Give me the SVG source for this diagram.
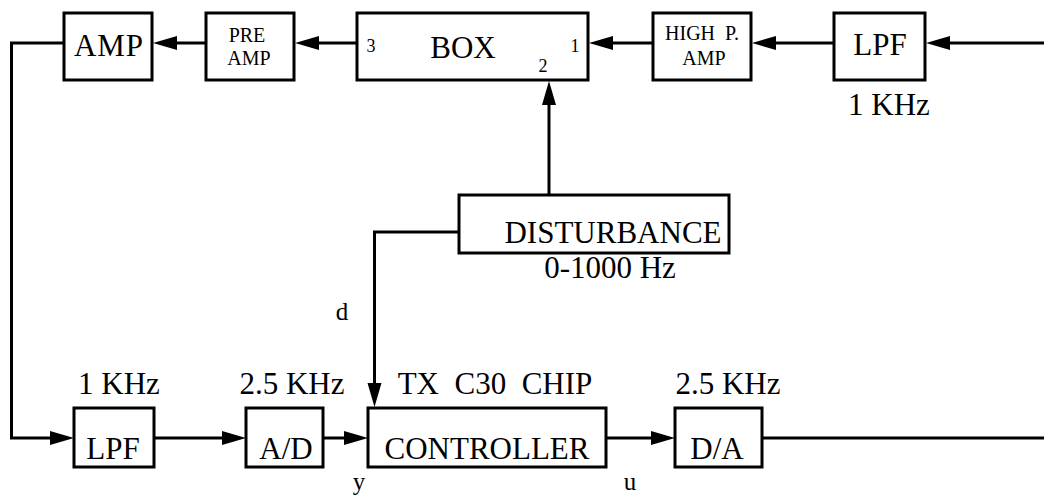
<svg xmlns="http://www.w3.org/2000/svg" width="1044" height="496" viewBox="0 0 1044 496">
<style>
.box{fill:#fff;stroke:#000;stroke-width:3}
.ln{fill:none;stroke:#000;stroke-width:3}
.t{font-family:"Liberation Serif","Times New Roman",serif;fill:#000;text-anchor:middle}
.big{font-size:31px}
.sm{font-size:20px}
.xs{font-size:18px}
.lab{font-size:25px}
</style>
<defs>
<marker id="ah" markerUnits="userSpaceOnUse" markerWidth="26" markerHeight="16" refX="14" refY="7" orient="auto">
<path d="M0,0 L24,7 L0,14 z" fill="#000"/>
</marker>
</defs>
<rect width="1044" height="496" fill="#fff"/>
<g id="connectors">
<path class="ln" d="M64,43 H11.5 V438 H64" marker-end="url(#ah)"/>
<path class="ln" d="M206,43 H163" marker-end="url(#ah)"/>
<path class="ln" d="M357,43 H305" marker-end="url(#ah)"/>
<path class="ln" d="M653,43 H599" marker-end="url(#ah)"/>
<path class="ln" d="M834,43 H762" marker-end="url(#ah)"/>
<path class="ln" d="M1044,43 H936" marker-end="url(#ah)"/>
<path class="ln" d="M549,195 V91" marker-end="url(#ah)"/>
<path class="ln" d="M459,232 H374.5 V397" marker-end="url(#ah)"/>
<path class="ln" d="M154,438 H236" marker-end="url(#ah)"/>
<path class="ln" d="M323,438 H358" marker-end="url(#ah)"/>
<path class="ln" d="M606,438 H665" marker-end="url(#ah)"/>
<path class="ln" d="M762,438 H1044"/>
</g>
<g id="amp"><rect class="box" x="64" y="13" width="88" height="67"/><text class="t big" x="109" y="56" letter-spacing="1">AMP</text></g>
<g id="preamp"><rect class="box" x="206" y="13" width="88" height="67"/><text class="t sm" x="247" y="42">PRE</text><text class="t sm" x="249" y="65">AMP</text></g>
<g id="box"><rect class="box" x="357" y="13" width="231" height="67"/><text class="t big" x="463" y="58">BOX</text><text class="t xs" x="371" y="52">3</text><text class="t xs" x="575" y="52">1</text><text class="t xs" x="543" y="72">2</text></g>
<g id="highpamp"><rect class="box" x="653" y="13" width="98" height="67"/><text class="t sm" x="702" y="40" xml:space="preserve">HIGH  P.</text><text class="t sm" x="704" y="65">AMP</text></g>
<g id="lpf-top"><rect class="box" x="834" y="13" width="91" height="67"/><text class="t big" x="880" y="55">LPF</text><text class="t big" x="889" y="115">1 KHz</text></g>
<g id="disturbance"><rect class="box" x="459" y="195" width="270" height="58"/><text class="t big" x="613" y="243">DISTURBANCE</text><text class="t big" x="610" y="278">0-1000 Hz</text></g>
<text class="t lab" x="342" y="320">d</text>
<g id="lpf-bottom"><rect class="box" x="74" y="408" width="80" height="59"/><text class="t big" x="113" y="459">LPF</text><text class="t big" x="119" y="394">1 KHz</text></g>
<g id="ad"><rect class="box" x="246" y="408" width="77" height="59"/><text class="t big" x="286" y="459">A/D</text><text class="t big" x="292" y="394">2.5 KHz</text></g>
<g id="controller"><rect class="box" x="368" y="408" width="238" height="59"/><text class="t big" x="487" y="459">CONTROLLER</text><text class="t big" x="495" y="394" xml:space="preserve">TX  C30  CHIP</text><text class="t lab" x="359" y="490">y</text><text class="t lab" x="630" y="490">u</text></g>
<g id="da"><rect class="box" x="675" y="408" width="87" height="59"/><text class="t big" x="717" y="459">D/A</text><text class="t big" x="728" y="394">2.5 KHz</text></g>
</svg>
